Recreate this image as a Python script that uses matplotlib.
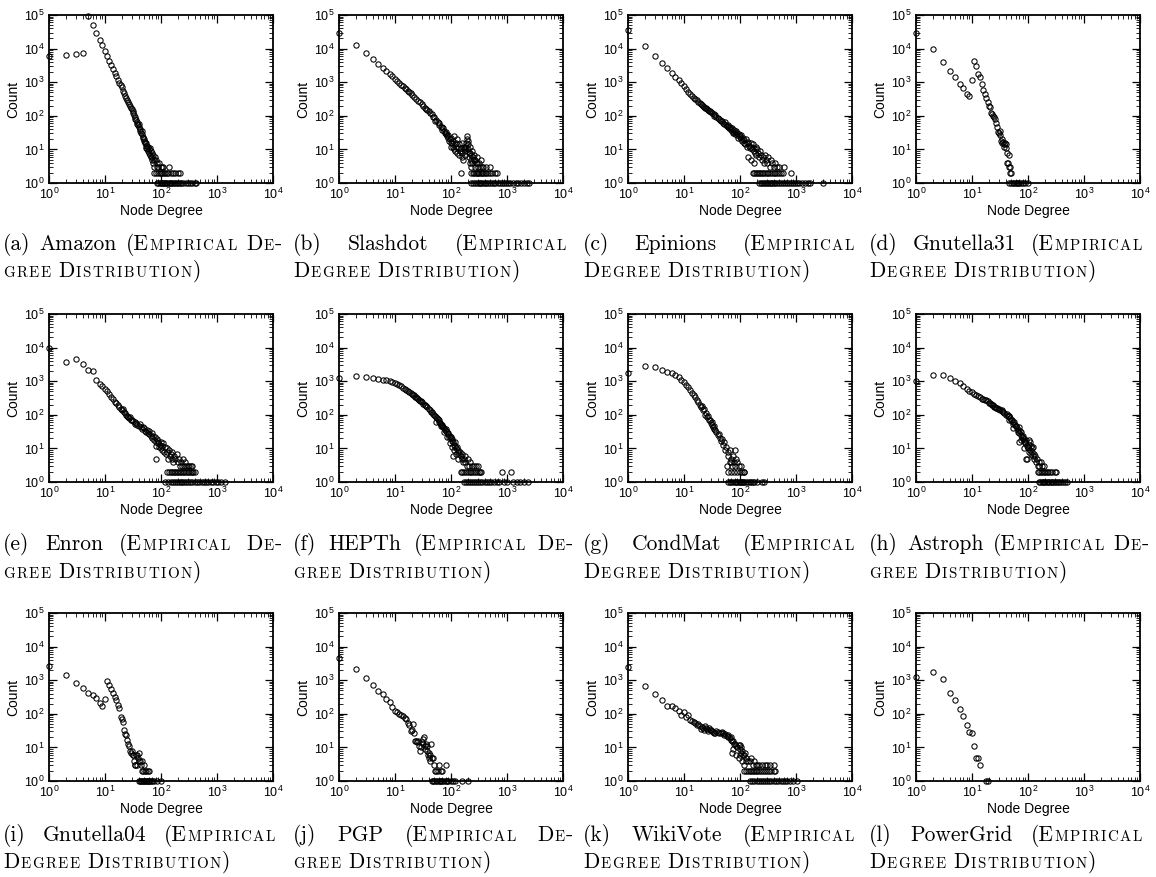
import matplotlib
matplotlib.use("Agg")
import matplotlib.pyplot as plt
from matplotlib.ticker import LogLocator, NullFormatter

plt.rcParams["font.family"] = ["Liberation Sans", "DejaVu Sans"]
plt.rcParams["mathtext.default"] = "regular"

# (degree, count) pairs; *_twos / *_ones are degrees with count 2 / 1
amazon = [(1, 6200), (2, 6300), (3, 7000), (4, 7600), (5, 95000), (6, 52000), (7, 30000), (8, 18500),
          (9, 12500), (10, 8500), (11, 6000), (12, 4400), (13, 3300), (14, 2500), (15, 1900), (16, 1500),
          (17, 1200), (18, 950), (19, 800), (20, 700), (21, 560), (22, 480), (23, 400), (24, 340), (25, 300),
          (26, 265), (27, 225), (28, 195), (29, 175), (30, 160), (31, 140), (32, 120), (33, 108), (34, 95),
          (35, 82), (36, 76), (37, 64), (38, 57), (39, 52), (40, 58), (41, 46), (42, 41), (43, 36), (44, 31),
          (45, 36), (46, 28), (47, 24), (48, 22), (49, 18), (50, 21), (51, 15), (52, 17), (53, 13), (54, 15),
          (55, 11), (56, 13), (57, 10), (58, 9), (59, 12), (60, 10), (62, 8), (63, 11), (64, 7), (65, 6),
          (66, 9), (68, 5), (69, 8), (70, 6), (72, 4), (73, 7), (75, 5), (76, 3), (78, 6), (82, 5), (84, 3),
          (85, 4), (90, 3), (92, 4), (98, 3), (103, 3), (110, 3), (140, 3)]
amazon_twos = [75, 80, 88, 95, 100, 106, 115, 120, 126, 133, 150, 165, 180, 200, 220]
amazon_ones = [85, 90, 95, 100, 105, 110, 115, 120, 125, 130, 138, 145, 152, 160, 170, 180, 190, 200,
               215, 230, 250, 275, 300, 330, 360, 400, 420]

slashdot = [(1, 30000), (2, 13000), (3, 7500), (4, 4900), (5, 3500), (6, 2700), (7, 2200), (8, 1800),
            (9, 1500), (10, 1250), (11, 1050), (12, 950), (13, 850), (14, 760), (15, 680), (16, 620),
            (17, 560), (18, 500), (19, 470), (20, 430), (22, 370), (24, 320), (26, 280), (28, 250), (30, 220),
            (32, 200), (34, 175), (36, 160), (38, 150), (40, 135), (42, 120), (45, 110), (48, 95), (50, 90),
            (52, 70), (55, 75), (58, 65), (60, 55), (62, 60), (65, 48), (68, 45), (70, 38), (72, 42), (75, 35),
            (78, 30), (80, 28), (82, 33), (85, 25), (88, 22), (90, 26), (92, 18), (95, 20), (98, 16),
            (100, 22), (102, 12), (105, 15), (108, 12), (110, 18), (112, 25), (115, 10), (118, 14), (120, 9),
            (122, 15), (125, 12), (128, 20), (130, 8), (135, 11), (138, 14), (140, 7), (145, 9), (148, 11),
            (150, 2), (155, 6), (158, 16), (160, 8), (165, 5), (168, 12), (170, 10), (175, 7), (178, 9),
            (180, 12), (185, 15), (188, 11), (190, 20), (195, 25), (198, 14), (200, 18), (205, 10), (208, 8),
            (210, 6), (215, 4), (218, 12), (220, 8), (225, 5), (228, 7), (230, 3), (238, 9), (240, 4),
            (248, 6), (258, 7), (260, 5), (268, 5), (270, 3), (278, 4), (288, 6), (290, 4), (300, 3),
            (310, 4), (330, 3), (350, 5), (360, 3), (380, 3), (420, 3), (500, 3)]
slashdot_twos = [230, 245, 260, 275, 290, 305, 320, 340, 360, 380, 400, 430, 460, 500, 550, 600, 650]
slashdot_ones = [230, 250, 270, 290, 310, 330, 350, 370, 400, 430, 460, 500, 540, 580, 620, 680, 740,
                 800, 870, 950, 1050, 1150, 1300, 1450, 1600, 1800, 2000, 2300, 2500]

epinions = [(1, 37000), (2, 12000), (3, 6000), (4, 3800), (5, 2600), (6, 1900), (7, 1450), (8, 1150),
            (9, 920), (10, 760), (11, 620), (12, 520), (13, 450), (14, 400), (15, 350), (16, 310), (17, 290),
            (18, 265), (19, 245), (20, 230), (21, 215), (22, 200), (23, 185), (24, 175), (25, 168), (26, 155),
            (27, 150), (28, 140), (29, 135), (30, 130), (32, 118), (34, 110), (35, 100), (36, 104), (38, 92),
            (40, 88), (42, 80), (44, 76), (46, 70), (48, 72), (50, 62), (52, 58), (54, 64), (56, 52),
            (58, 50), (60, 48), (62, 55), (64, 42), (66, 46), (68, 38), (70, 41), (72, 44), (74, 34),
            (76, 30), (78, 37), (80, 33), (83, 28), (85, 36), (87, 30), (90, 26), (92, 22), (95, 29),
            (98, 24), (100, 25), (103, 20), (106, 27), (110, 18), (113, 22), (116, 16), (120, 19), (124, 14),
            (128, 21), (132, 15), (136, 12), (140, 17), (140, 6), (145, 13), (150, 11), (155, 15), (160, 12),
            (160, 5), (165, 10), (170, 14), (175, 9), (180, 11), (180, 4), (185, 8), (190, 12), (195, 7),
            (200, 10), (210, 8), (220, 6), (230, 9), (240, 7), (250, 5), (260, 6), (270, 4), (280, 7),
            (290, 5), (300, 4), (320, 6), (340, 3), (360, 5), (380, 4), (400, 3), (430, 4), (460, 3),
            (500, 3), (600, 3)]
epinions_twos = [170, 180, 190, 200, 215, 230, 245, 260, 280, 300, 320, 340, 370, 400, 430, 460, 500,
                 540, 580, 800]
epinions_ones = [220, 235, 250, 265, 280, 300, 320, 340, 360, 380, 400, 430, 460, 500, 540, 580, 630,
                 680, 740, 800, 870, 950, 1050, 1150, 1300, 1450, 1650, 1800, 3000]

gnutella31 = [(1, 30000), (2, 9800), (3, 4100), (4, 2200), (5, 1400), (6, 900), (7, 690), (8, 440),
              (9, 400), (10, 1150), (11, 4400), (12, 3000), (13, 1800), (14, 1400), (15, 900), (16, 600),
              (17, 440), (18, 340), (19, 260), (20, 195), (21, 180), (22, 120), (23, 110), (24, 100),
              (25, 90), (26, 80), (27, 60), (28, 48), (29, 34), (30, 30), (31, 35), (32, 26), (33, 18),
              (34, 16), (35, 20), (36, 17), (37, 12), (38, 14), (39, 15), (40, 11), (41, 14), (42, 4),
              (43, 8), (44, 4), (45, 7), (46, 3), (48, 3)]
gnutella31_twos = [47, 49]
gnutella31_ones = [45, 50, 53, 56, 60, 63, 66, 70, 75, 80, 90, 100]

enron = [(1, 10000), (2, 3700), (3, 4700), (4, 3200), (5, 2100), (6, 2000), (7, 1100), (8, 800),
         (9, 700), (10, 600), (11, 520), (12, 420), (13, 350), (14, 290), (15, 240), (16, 220), (17, 190),
         (18, 170), (19, 150), (20, 140), (21, 150), (22, 120), (23, 110), (24, 100), (25, 95), (26, 88),
         (27, 80), (28, 85), (29, 72), (30, 70), (32, 65), (34, 60), (35, 52), (36, 58), (38, 50), (40, 46),
         (42, 52), (44, 42), (46, 38), (48, 44), (50, 40), (52, 34), (54, 30), (56, 36), (58, 28), (60, 32),
         (62, 26), (65, 24), (68, 28), (70, 20), (72, 23), (75, 18), (78, 22), (80, 15), (82, 12), (83, 5),
         (85, 19), (88, 14), (90, 17), (92, 11), (95, 13), (98, 16), (100, 10), (103, 12), (106, 9),
         (110, 14), (114, 8), (118, 11), (122, 7), (126, 10), (130, 8), (135, 5), (140, 9), (145, 6),
         (150, 7), (155, 5), (160, 8), (165, 4), (170, 6), (180, 5), (190, 7), (200, 4), (210, 5),
         (220, 3), (230, 4), (240, 3), (250, 5), (260, 3), (270, 4), (280, 3), (300, 3), (320, 3),
         (340, 3), (360, 3)]
enron_twos = [130, 140, 150, 160, 170, 180, 190, 200, 215, 230, 245, 260, 280, 300, 320, 340, 360,
              380, 400]
enron_ones = [120, 135, 150, 165, 180, 195, 210, 225, 240, 260, 280, 300, 330, 360, 400, 440, 480,
              530, 580, 640, 700, 770, 850, 950, 1050, 1200, 1400]

hepth = [(1, 1260), (2, 1400), (3, 1300), (4, 1250), (5, 1150), (6, 1100), (7, 1050), (8, 1000),
         (9, 950), (10, 880), (11, 820), (12, 760), (13, 700), (14, 640), (15, 600), (16, 560), (17, 520),
         (18, 480), (19, 450), (20, 420), (21, 400), (22, 380), (23, 350), (24, 330), (25, 310), (26, 290),
         (27, 275), (28, 260), (29, 250), (30, 240), (32, 215), (34, 195), (35, 190), (36, 180), (38, 165),
         (40, 150), (42, 140), (44, 125), (46, 118), (48, 108), (50, 100), (52, 92), (54, 85), (55, 60),
         (56, 78), (58, 74), (60, 70), (62, 62), (64, 58), (65, 45), (66, 55), (68, 50), (70, 47), (72, 44),
         (75, 40), (75, 30), (78, 36), (80, 39), (82, 32), (85, 30), (85, 22), (88, 26), (90, 28), (92, 22),
         (95, 24), (95, 14), (98, 20), (100, 22), (103, 17), (105, 11), (106, 19), (108, 6), (110, 15),
         (113, 13), (115, 9), (116, 16), (120, 12), (124, 10), (125, 7), (128, 11), (132, 8), (135, 5),
         (136, 9), (140, 7), (145, 8), (150, 6), (155, 5), (160, 7), (165, 4), (170, 5), (175, 6),
         (180, 4), (190, 3), (200, 5), (210, 3), (220, 4), (240, 3), (260, 3), (280, 3), (300, 3)]
hepth_twos = [150, 160, 170, 185, 200, 215, 230, 250, 270, 290, 310, 330, 350, 800, 1200]
hepth_ones = [170, 185, 200, 220, 240, 260, 280, 300, 330, 360, 400, 440, 480, 520, 580, 650, 720, 900,
              1000, 1300, 1500, 1700, 2000, 2400]

condmat = [(1, 1700), (2, 2800), (3, 2600), (4, 2200), (5, 1900), (6, 1700), (7, 1500), (8, 1300),
           (9, 1100), (10, 920), (11, 760), (12, 650), (13, 540), (14, 450), (15, 380), (16, 330), (17, 280),
           (18, 240), (19, 200), (20, 175), (21, 180), (22, 140), (23, 150), (24, 100), (25, 110), (26, 85),
           (27, 90), (28, 68), (29, 72), (30, 57), (31, 62), (32, 50), (33, 43), (34, 46), (35, 38), (36, 35),
           (38, 30), (40, 25), (42, 27), (44, 20), (45, 17), (47, 19), (50, 13), (52, 15), (55, 9), (57, 11),
           (58, 3), (60, 8), (62, 6), (65, 9), (66, 4), (68, 4), (70, 5), (72, 3), (75, 6), (78, 4), (80, 9),
           (82, 3), (85, 5), (90, 4), (95, 3), (105, 3), (118, 2)]
condmat_twos = [62, 70, 78, 88, 100, 110, 120]
condmat_ones = [60, 65, 70, 75, 80, 85, 90, 95, 100, 105, 110, 115, 120, 130, 140, 150, 160, 170, 180,
                200, 250, 270]

astroph = [(1, 1000), (2, 1500), (3, 1500), (4, 1250), (5, 1000), (6, 900), (7, 720), (8, 600),
           (9, 520), (10, 470), (11, 430), (12, 390), (13, 360), (14, 330), (15, 300), (16, 290), (17, 280),
           (18, 275), (19, 250), (20, 230), (21, 220), (22, 210), (23, 200), (24, 190), (25, 175), (26, 170),
           (27, 160), (28, 155), (29, 150), (30, 150), (32, 140), (34, 135), (35, 130), (36, 125), (38, 110),
           (40, 100), (42, 105), (44, 92), (45, 90), (45, 70), (46, 95), (48, 80), (50, 72), (52, 68),
           (54, 60), (55, 55), (55, 40), (56, 62), (58, 50), (60, 45), (62, 48), (64, 40), (65, 30), (66, 36),
           (68, 42), (70, 28), (70, 15), (72, 33), (74, 25), (75, 18), (76, 30), (78, 22), (80, 20), (82, 24),
           (84, 17), (85, 10), (86, 19), (88, 15), (90, 14), (92, 18), (92, 5), (95, 12), (95, 5), (98, 10),
           (100, 11), (103, 13), (105, 18), (106, 8), (110, 9), (110, 15), (114, 7), (115, 12), (118, 8),
           (120, 10), (122, 6), (125, 11), (126, 7), (130, 5), (135, 6), (140, 4), (145, 5), (150, 3),
           (155, 4), (160, 3), (170, 4), (180, 3), (190, 3)]
astroph_twos = [150, 160, 170, 180, 190, 200, 215, 230, 250, 270, 300, 315]
astroph_ones = [155, 165, 175, 185, 195, 205, 215, 225, 240, 255, 270, 285, 300, 320, 340, 360, 390,
                420, 460, 500]

gnutella04 = [(1, 2600), (2, 1450), (3, 820), (4, 570), (5, 410), (6, 360), (7, 290), (8, 210),
              (9, 170), (10, 280), (11, 960), (12, 720), (13, 540), (14, 430), (15, 320), (16, 250),
              (17, 185), (18, 145), (19, 83), (20, 72), (21, 58), (22, 32), (23, 25), (24, 23), (25, 17),
              (26, 13), (27, 11), (28, 8), (29, 7), (30, 8), (31, 6), (32, 6), (33, 4), (34, 3), (35, 3),
              (36, 6), (37, 3), (38, 6), (39, 5), (40, 7), (41, 4), (42, 4), (44, 3), (45, 4), (50, 3)]
gnutella04_twos = [46, 48, 52, 55, 58, 60]
gnutella04_ones = [40, 42, 44, 46, 48, 50, 52, 54, 56, 58, 60, 62, 65, 68, 75, 85, 100]

pgp = [(1, 4500), (2, 2100), (3, 1150), (4, 700), (5, 480), (6, 380), (7, 280), (8, 220), (9, 155),
       (10, 120), (11, 110), (12, 100), (13, 95), (14, 85), (15, 75), (16, 68), (17, 52), (18, 47),
       (19, 30), (20, 33), (21, 50), (22, 26), (23, 16), (24, 15), (25, 14), (26, 16), (27, 11), (28, 8),
       (29, 10), (30, 14), (31, 18), (32, 13), (33, 20), (34, 11), (35, 9), (36, 13), (37, 11), (38, 8),
       (39, 6), (40, 7), (41, 5), (42, 6), (43, 4), (44, 13), (45, 5), (47, 5), (50, 3), (60, 3), (83, 3)]
pgp_twos = [52, 55, 58, 65, 70]
pgp_ones = [45, 48, 50, 53, 56, 60, 63, 66, 70, 75, 80, 85, 90, 100, 110, 120, 160, 200]

wikivote = [(1, 2400), (2, 670), (3, 400), (4, 260), (5, 170), (6, 170), (7, 150), (8, 120), (9, 93),
            (10, 110), (11, 83), (12, 90), (13, 65), (14, 60), (15, 58), (16, 52), (17, 45), (18, 50),
            (19, 42), (20, 35), (21, 40), (22, 37), (23, 33), (24, 42), (25, 38), (26, 35), (27, 30),
            (28, 38), (29, 32), (30, 33), (32, 30), (33, 29), (34, 26), (36, 27), (38, 31), (40, 29),
            (42, 26), (45, 27), (48, 28), (50, 26), (52, 24), (55, 25), (58, 22), (60, 21), (62, 24),
            (65, 19), (68, 20), (70, 17), (72, 15), (72, 7), (75, 15), (75, 9), (78, 13), (80, 13), (85, 11),
            (85, 6), (90, 10), (95, 12), (95, 5), (98, 12), (100, 9), (100, 6), (105, 7), (105, 10), (110, 8),
            (110, 4), (115, 6), (120, 6), (120, 3), (125, 7), (130, 5), (130, 4), (140, 4), (150, 4),
            (160, 5), (170, 3), (180, 4), (190, 3), (200, 3), (220, 3), (250, 3), (280, 3), (300, 3),
            (350, 3), (400, 3)]
wikivote_twos = [120, 130, 140, 150, 160, 170, 180, 190, 200, 220, 240, 260, 280, 300, 330, 360, 400, 430]
wikivote_ones = [150, 165, 180, 200, 220, 240, 260, 280, 300, 330, 360, 400, 440, 480, 530, 580, 640,
                 700, 780, 870, 1050]

powergrid = [(1, 1230), (2, 1700), (3, 1070), (4, 410), (5, 260), (6, 140), (7, 87), (8, 47), (9, 28),
             (10, 26), (11, 11), (12, 5), (13, 5), (14, 3)]
powergrid_twos = []
powergrid_ones = [18, 19]

panels = [amazon, slashdot, epinions, gnutella31, enron, hepth, condmat, astroph,
          gnutella04, pgp, wikivote, powergrid]
twos = [amazon_twos, slashdot_twos, epinions_twos, gnutella31_twos, enron_twos, hepth_twos,
        condmat_twos, astroph_twos, gnutella04_twos, pgp_twos, wikivote_twos, powergrid_twos]
ones = [amazon_ones, slashdot_ones, epinions_ones, gnutella31_ones, enron_ones, hepth_ones,
        condmat_ones, astroph_ones, gnutella04_ones, pgp_ones, wikivote_ones, powergrid_ones]

cap_line1 = ["(a) Amazon (Empirical De-", "(b) Slashdot (Empirical", "(c) Epinions (Empirical",
             "(d) Gnutella31 (Empirical", "(e) Enron (Empirical De-", "(f) HEPTh (Empirical De-",
             "(g) CondMat (Empirical", "(h) Astroph (Empirical De-", "(i) Gnutella04 (Empirical",
             "(j) PGP (Empirical De-", "(k) WikiVote (Empirical", "(l) PowerGrid (Empirical"]
cap_line2 = ["gree Distribution)", "Degree Distribution)", "Degree Distribution)", "Degree Distribution)",
             "gree Distribution)", "gree Distribution)", "Degree Distribution)", "gree Distribution)",
             "Degree Distribution)", "gree Distribution)", "Degree Distribution)", "Degree Distribution)"]

W, H = 1156, 877
fig = plt.figure(figsize=(W / 100, H / 100), dpi=100)
renderer = fig.canvas.get_renderer()

ax_left = [49, 339, 628, 916]
ax_top = [15, 314, 613]
ax_w, ax_h = 224, 168
cap_left = [3, 293, 583, 869]
cap_right = [275, 566, 854, 1142]
cap_base1 = [250, 550, 841]
cap_base2 = [277, 578, 868]
BIG, SMALL = 15.5, 10.8
GAP, TRACK = 1.0, 0.4
_wcache = {}


def text_w(s, size):
    if (s, size) not in _wcache:
        t = fig.text(0, 0, s, fontsize=size, family="cmr10")
        _wcache[(s, size)] = t.get_window_extent(renderer).width
        t.remove()
    return _wcache[(s, size)]


def word_runs(word, caps):
    if not caps:
        return [(word, BIG)]
    runs = []
    for ch in word:
        if ch.islower():
            runs.append((ch.upper(), SMALL))
        elif runs and runs[-1][1] == BIG:
            runs[-1] = (runs[-1][0] + ch, BIG)
        else:
            runs.append((ch, BIG))
    return runs


def step(s, z):
    return text_w(s, z) + GAP + (TRACK if z == SMALL else 0)


def runs_w(runs):
    return sum(step(s, z) for s, z in runs) - GAP


def put_runs(x, y, runs):
    for s, z in runs:
        fig.text(x / W, 1 - y / H, s, fontsize=z, family="cmr10", va="baseline", ha="left")
        x += step(s, z)


def put_line(words, caps, left, right, y, justify):
    runs = [word_runs(w, c) for w, c in zip(words, caps)]
    widths = [runs_w(r) for r in runs]
    if justify:
        if words[-1].endswith("-"):
            right += text_w("-", BIG)
        space = (right - left - sum(widths)) / (len(words) - 1)
    else:
        space = 0.333 * BIG * 100 / 72
    x = left
    for r, w in zip(runs, widths):
        put_runs(x, y, r)
        x += w + space


for i in range(12):
    r, c = divmod(i, 4)
    ax = fig.add_axes([ax_left[c] / W, 1 - (ax_top[r] + ax_h) / H, ax_w / W, ax_h / H])
    xs = [p[0] for p in panels[i]] + twos[i] + ones[i]
    ys = [p[1] for p in panels[i]] + [2] * len(twos[i]) + [1] * len(ones[i])
    ax.plot(xs, ys, "o", mfc="none", mec="black", ms=3.8, mew=0.75, clip_on=False, zorder=3)
    ax.set_xscale("log")
    ax.set_yscale("log")
    ax.set_xlim(1, 1e4)
    ax.set_ylim(1, 1e5)
    for axis in (ax.xaxis, ax.yaxis):
        axis.set_major_locator(LogLocator(base=10, numticks=10))
        axis.set_minor_locator(LogLocator(base=10, subs=range(2, 10), numticks=20))
        axis.set_minor_formatter(NullFormatter())
    ax.tick_params(which="both", direction="in", top=True, right=True)
    ax.tick_params(which="major", length=5.5, width=0.9, labelsize=9, pad=3)
    ax.tick_params(which="minor", length=3, width=0.6)
    for sp in ax.spines.values():
        sp.set_linewidth(1.3)
    ax.set_xlabel("Node Degree", fontsize=10, labelpad=1)
    ax.set_ylabel("Count", fontsize=10, labelpad=3)

    words1 = cap_line1[i].split(" ")
    put_line(words1, [k >= 2 for k in range(len(words1))], cap_left[c], cap_right[c], cap_base1[r], True)
    words2 = cap_line2[i].split(" ")
    put_line(words2, [True] * len(words2), cap_left[c], cap_right[c], cap_base2[r], False)

fig.savefig("out.png", dpi=100)
